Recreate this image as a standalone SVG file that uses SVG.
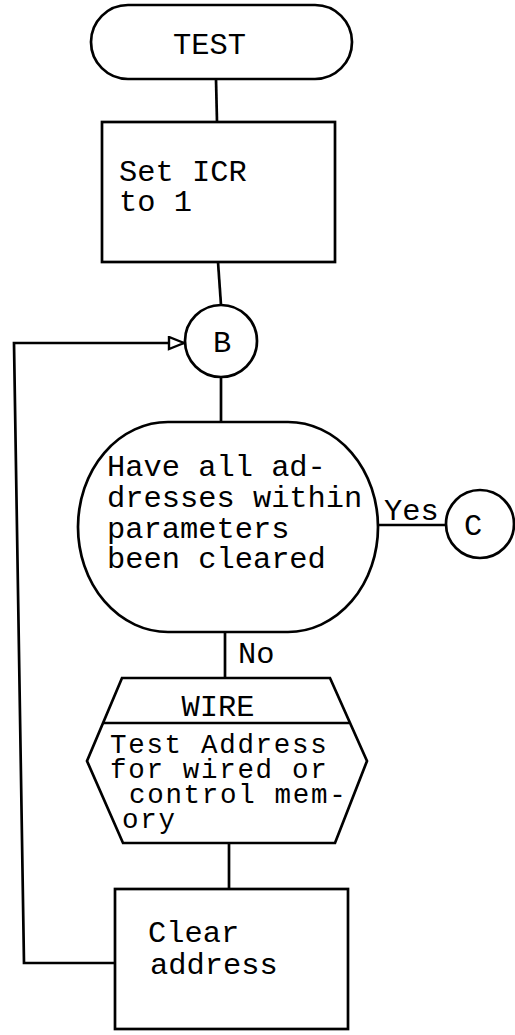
<svg xmlns="http://www.w3.org/2000/svg" width="515" height="1035" viewBox="0 0 515 1035">
<style>
.s{fill:#fff;stroke:#000;stroke-width:2.7}
.c{fill:none;stroke:#000;stroke-width:2.7}
.t{font-family:"Liberation Mono","Courier New",monospace;font-size:30.4px;fill:#000}
.h{font-size:27.5px;letter-spacing:1.7px}
</style>
<defs>
<marker id="ah" markerWidth="20" markerHeight="16" refX="17" refY="7" orient="auto" markerUnits="userSpaceOnUse">
<path d="M2,1 L17,7 L2,13 Z" fill="#fff" stroke="#000" stroke-width="2.4"/>
</marker>
</defs>
<rect width="515" height="1035" fill="#fff"/>
<g id="connectors">
<line class="c" x1="216" y1="79" x2="217" y2="122"/>
<line class="c" x1="218" y1="262" x2="221" y2="305"/>
<line class="c" x1="221" y1="377" x2="221" y2="422"/>
<line class="c" x1="378" y1="525" x2="446" y2="525"/>
<line class="c" x1="225" y1="632" x2="225" y2="678"/>
<line class="c" x1="229" y1="843" x2="229" y2="889"/>
<polyline class="c" points="115,963 24,963 14,343 184,343" marker-end="url(#ah)"/>
<text class="t" x="384" y="520">Yes</text>
<text class="t" x="238" y="663">No</text>
</g>
<g id="test">
<rect class="s" x="91" y="5" width="261" height="74" rx="37" ry="37"/>
<text class="t" x="173" y="54">TEST</text>
</g>
<g id="set-icr">
<rect class="s" x="102" y="122" width="233" height="140"/>
<text class="t" x="119" y="181">Set ICR</text>
<text class="t" x="119" y="211">to 1</text>
</g>
<g id="b">
<circle class="s" cx="221" cy="341" r="36"/>
<text class="t" x="222" y="352" text-anchor="middle">B</text>
</g>
<g id="decision">
<rect class="s" x="78" y="422" width="300" height="210" rx="90" ry="105"/>
<text class="t" x="107" y="476">Have all ad-</text>
<text class="t" x="107" y="507">dresses within</text>
<text class="t" x="107" y="538">parameters</text>
<text class="t" x="107" y="568">been cleared</text>
</g>
<g id="c">
<circle class="s" cx="480" cy="524" r="34"/>
<text class="t" x="473" y="535" text-anchor="middle">C</text>
</g>
<g id="wire">
<polygon class="s" points="122,678 330,678 367,761 335,843 123,843 87,761"/>
<line class="c" x1="103" y1="723" x2="349" y2="723"/>
<text class="t" x="218" y="716" text-anchor="middle">WIRE</text>
<text class="t h" x="110" y="753">Test Address</text>
<text class="t h" x="110" y="778">for wired or</text>
<text class="t h" x="129" y="803">control mem-</text>
<text class="t h" x="122" y="828">ory</text>
</g>
<g id="clear">
<rect class="s" x="115" y="889" width="233" height="140"/>
<text class="t" x="148" y="942">Clear</text>
<text class="t" x="150" y="974">address</text>
</g>
</svg>
